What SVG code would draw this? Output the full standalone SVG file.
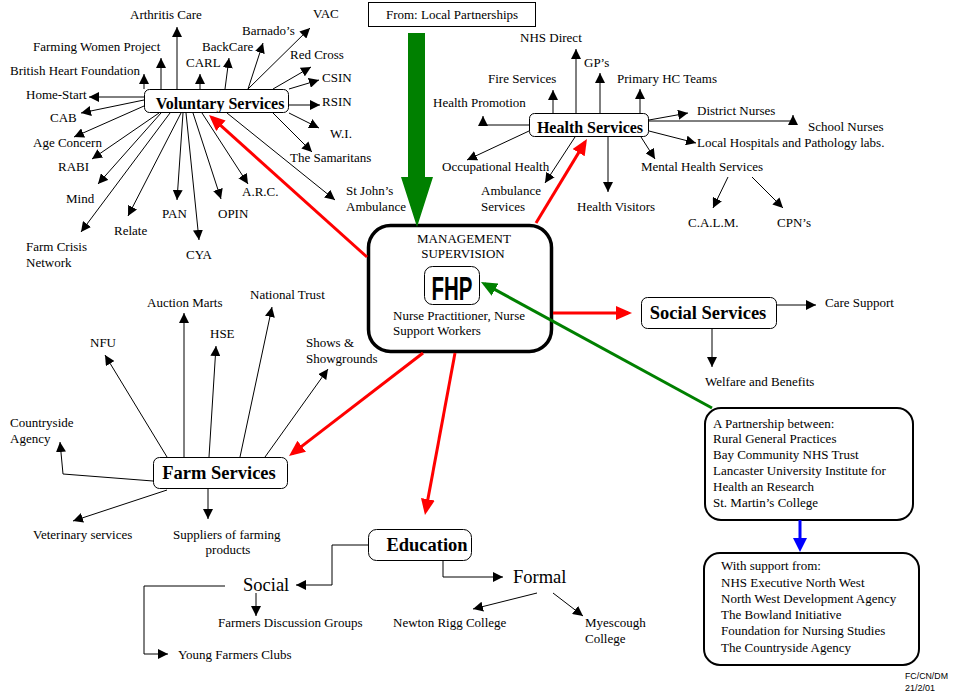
<svg xmlns="http://www.w3.org/2000/svg" width="961" height="698" viewBox="0 0 961 698">
<style>
text{font-family:"Liberation Serif","Times New Roman",serif;font-size:13px;fill:#000}
.b{font-weight:bold;font-size:16px;text-anchor:middle}
.bb{font-weight:bold;font-size:18.5px;text-anchor:middle}
.big{font-size:18.5px}
.c{text-anchor:middle}
.box{fill:#fff;stroke:#000;stroke-width:1}
.rbox{fill:#fff;stroke:#000;stroke-width:2}
.ln{fill:none;stroke:#000;stroke-width:1;marker-end:url(#ah)}
.red{fill:none;stroke:#f00;stroke-width:3;marker-end:url(#ar)}
.grn{fill:none;stroke:#008000;stroke-width:3;marker-end:url(#ag)}
.blu{fill:none;stroke:#00f;stroke-width:3;marker-end:url(#ab)}
.logo{font-family:"Liberation Sans",Arial,sans-serif;font-size:34px;font-weight:bold}
.small{font-family:"Liberation Sans",Arial,sans-serif;font-size:9px}
</style>
<defs>
<marker id="ah" viewBox="0 0 10 10" refX="10" refY="5" markerWidth="10" markerHeight="10" orient="auto" markerUnits="userSpaceOnUse"><path d="M0,0 L10,5 L0,10 z" fill="#000"/></marker>
<marker id="ar" viewBox="0 0 16 14" refX="12" refY="7" markerWidth="16" markerHeight="14" orient="auto" markerUnits="userSpaceOnUse"><path d="M0,0 L16,7 L0,14 z" fill="#f00"/></marker>
<marker id="ag" viewBox="0 0 16 14" refX="12" refY="7" markerWidth="16" markerHeight="14" orient="auto" markerUnits="userSpaceOnUse"><path d="M0,0 L16,7 L0,14 z" fill="#008000"/></marker>
<marker id="ab" viewBox="0 0 14 14" refX="10" refY="7" markerWidth="14" markerHeight="14" orient="auto" markerUnits="userSpaceOnUse"><path d="M0,0 L14,7 L0,14 z" fill="#00f"/></marker>
</defs>
<rect width="961" height="698" fill="#fff"/>

<g id="from">
<rect class="box" x="368.5" y="2.5" width="167" height="24"/>
<text class="c" x="452" y="19">From: Local Partnerships</text>
</g>

<g id="fhp">
<rect x="368.5" y="225.5" width="183" height="126" rx="22" fill="#fff" stroke="#000" stroke-width="3.5"/>
<text class="c" x="464" y="242.5">MANAGEMENT</text>
<text class="c" x="463" y="257.5">SUPERVISION</text>
<rect class="box" x="424.5" y="266.5" width="55" height="38" rx="8"/>
<text class="logo" x="431.5" y="299.5" textLength="41" lengthAdjust="spacingAndGlyphs">FHP</text>
<text x="393" y="319.5">Nurse Practitioner, Nurse</text>
<text x="393" y="334.5">Support Workers</text>
</g>

<g id="voluntary">
<rect class="box" x="144.5" y="89.5" width="144" height="23" rx="5"/>
<text class="b" x="220" y="108.5">Voluntary Services</text>
</g>
<g id="voluntary-labels">
<text x="130" y="18.5">Arthritis Care</text>
<text x="313" y="17.5">VAC</text>
<text x="242" y="34.5">Barnado’s</text>
<text x="33" y="50.5">Farming Women Project</text>
<text x="202" y="50.5">BackCare</text>
<text x="290" y="58.5">Red Cross</text>
<text x="186" y="66.5">CARL</text>
<text x="10" y="74.5">British Heart Foundation</text>
<text x="322" y="81.5">CSIN</text>
<text x="26" y="98.5">Home-Start</text>
<text x="322" y="105.5">RSIN</text>
<text x="50" y="121.5">CAB</text>
<text x="330" y="137.5">W.I.</text>
<text x="33" y="146.5">Age Concern</text>
<text x="290" y="161.5">The Samaritans</text>
<text x="58" y="170.5">RABI</text>
<text x="346" y="194.5">St John’s</text>
<text x="346" y="210.5">Ambulance</text>
<text x="242" y="195.5">A.R.C.</text>
<text x="66" y="202.5">Mind</text>
<text x="162" y="217.5">PAN</text>
<text x="218" y="217.5">OPIN</text>
<text x="114" y="234.5">Relate</text>
<text x="26" y="250.5">Farm Crisis</text>
<text x="26" y="266.5">Network</text>
<text x="186" y="258.5">CYA</text>
</g>

<g id="health">
<rect class="box" x="529.5" y="113.5" width="119" height="23" rx="5"/>
<text class="b" x="590" y="133">Health Services</text>
</g>
<g id="health-labels">
<text x="520" y="41.5">NHS Direct</text>
<text x="584" y="66.5">GP’s</text>
<text x="488" y="82.5">Fire Services</text>
<text x="617" y="82.5">Primary HC Teams</text>
<text x="433" y="106.5">Health Promotion</text>
<text x="697" y="114.5">District Nurses</text>
<text x="808" y="130.5">School Nurses</text>
<text x="697" y="146.5">Local Hospitals and Pathology labs.</text>
<text x="442" y="170.5">Occupational Health</text>
<text x="641" y="170.5">Mental Health Services</text>
<text x="481" y="194.5">Ambulance</text>
<text x="481" y="210.5">Services</text>
<text x="577" y="210.5">Health Visitors</text>
<text x="688" y="226.5">C.A.L.M.</text>
<text x="777" y="226.5">CPN’s</text>
</g>

<g id="social">
<rect class="box" x="641.5" y="297.5" width="135" height="31" rx="6"/>
<text class="bb" x="708" y="319">Social Services</text>
</g>
<g id="social-labels">
<text x="825" y="306.5">Care Support</text>
<text x="705" y="385.5">Welfare and Benefits</text>
</g>

<g id="farm">
<rect class="box" x="153.5" y="457.5" width="134" height="31" rx="6"/>
<text class="bb" x="219" y="479">Farm Services</text>
</g>
<g id="farm-labels">
<text x="250" y="298.5">National Trust</text>
<text x="147" y="306.5">Auction Marts</text>
<text x="210" y="337.5">HSE</text>
<text x="90" y="346.5">NFU</text>
<text x="306" y="346.5">Shows &amp;</text>
<text x="306" y="362.5">Showgrounds</text>
<text x="10" y="426.5">Countryside</text>
<text x="10" y="442.5">Agency</text>
<text x="33" y="538.5">Veterinary services</text>
<text x="173" y="538.5">Suppliers of farming</text>
<text class="c" x="228" y="553.5">products</text>
</g>

<g id="education">
<rect class="box" x="368.5" y="529.5" width="103" height="31" rx="8"/>
<text class="bb" x="427" y="551">Education</text>
</g>
<g id="education-labels">
<text class="big" x="243" y="591">Social</text>
<text class="big" x="513" y="583">Formal</text>
<text x="218" y="626.5">Farmers Discussion Groups</text>
<text x="393" y="626.5">Newton Rigg College</text>
<text x="585" y="626.5">Myescough</text>
<text x="585" y="642.5">College</text>
<text x="178" y="658.5">Young Farmers Clubs</text>
</g>

<g id="partnership">
<rect class="rbox" x="705" y="408" width="208" height="112" rx="16"/>
<text x="713" y="427.5">A Partnership between:</text>
<text x="713" y="442.5">Rural General Practices</text>
<text x="713" y="458.5">Bay Community NHS Trust</text>
<text x="713" y="474.5">Lancaster University Institute for</text>
<text x="713" y="490.5">Health an Research</text>
<text x="713" y="506.5">St. Martin’s College</text>
</g>

<g id="support">
<rect class="rbox" x="704" y="553" width="215" height="112" rx="16"/>
<text x="721" y="569.5">With support from:</text>
<text x="721" y="586.5">NHS Executive North West</text>
<text x="721" y="602.5">North West Development Agency</text>
<text x="721" y="618.5">The Bowland Initiative</text>
<text x="721" y="634.5">Foundation for Nursing Studies</text>
<text x="721" y="651.5">The Countryside Agency</text>
</g>

<g id="credit">
<text class="small" x="905" y="678.5" textLength="43" lengthAdjust="spacingAndGlyphs">FC/CN/DM</text>
<text class="small" x="905" y="690.5" textLength="30" lengthAdjust="spacingAndGlyphs">21/2/01</text>
</g>

<g id="connectors">
<path class="ln" d="M177,89 L177,27"/>
<path class="ln" d="M161,89 L161,58"/>
<path class="ln" d="M144,89 L144,74"/>
<path class="ln" d="M200,89 L200,74"/>
<path class="ln" d="M225,89 L229,58"/>
<path class="ln" d="M248,89 L263,43"/>
<path class="ln" d="M248,89 L310,28"/>
<path class="ln" d="M273,89 L311,67"/>
<path class="ln" d="M289,89 L319,80"/>
<path class="ln" d="M289,105 L320,105"/>
<path class="ln" d="M289,113 L319,128"/>
<path class="ln" d="M273,113 L312,152"/>
<path class="ln" d="M227,113 L335,200"/>
<path class="ln" d="M202,113 L248,184"/>
<path class="ln" d="M193,113 L221,199"/>
<path class="ln" d="M186,113 L199,240"/>
<path class="ln" d="M183,113 L177,200"/>
<path class="ln" d="M181,113 L128,216"/>
<path class="ln" d="M170,113 L81,232"/>
<path class="ln" d="M161,113 L98,184"/>
<path class="ln" d="M159,113 L92,159"/>
<path class="ln" d="M144,106 L74,137"/>
<path class="ln" d="M144,100 L81,113"/>
<path class="ln" d="M144,97 L89,97"/>
<path class="ln" d="M529,125 H483 V116"/>
<path class="ln" d="M553,113 V90"/>
<path class="ln" d="M576,113 V49"/>
<path class="ln" d="M600,113 V73"/>
<path class="ln" d="M640,113 V89"/>
<path class="ln" d="M649,120 L688,113"/>
<path class="ln" d="M649,121 H793 V115"/>
<path class="ln" d="M649,131 L696,143"/>
<path class="ln" d="M641,137 L655,159"/>
<path class="ln" d="M608,137 V192"/>
<path class="ln" d="M575,137 L545,183"/>
<path class="ln" d="M529,131 L467,160"/>
<path class="ln" d="M728,177 L713,208"/>
<path class="ln" d="M752,177 L783,208"/>
<path class="ln" d="M167,457 L105,355"/>
<path class="ln" d="M184,457 V313"/>
<path class="ln" d="M209,457 L216,346"/>
<path class="ln" d="M240,457 L272,307"/>
<path class="ln" d="M265,457 L328,369"/>
<path class="ln" d="M153,481 L63,474 L60,442"/>
<path class="ln" d="M167,490 L73,521"/>
<path class="ln" d="M208,489 V519"/>
<path class="ln" d="M777,305 H816"/>
<path class="ln" d="M712,329 V367"/>
<path class="ln" d="M368,545 H332 V585 H296"/>
<path class="ln" d="M443,561 V577 H503"/>
<path class="ln" d="M256,593 V616"/>
<path class="ln" d="M225,586 H144 V654 H168"/>
<path class="ln" d="M537,593 L473,609"/>
<path class="ln" d="M553,593 L583,616"/>
<path class="red" d="M367,257 L212,117.7"/>
<path class="red" d="M536,223 L584.9,142.4"/>
<path class="red" d="M553,313 L628,313"/>
<path class="red" d="M423,353 L292.2,453.6"/>
<path class="red" d="M455,353 L425.7,511.1"/>
<path class="grn" d="M712,408 L484.5,283.9"/>
<path class="blu" d="M800,520 L800,548"/>
<polygon points="408,33 425,33 425,177 433,177 417,227 401,177 408,177" fill="#008000"/>
</g>
</svg>
